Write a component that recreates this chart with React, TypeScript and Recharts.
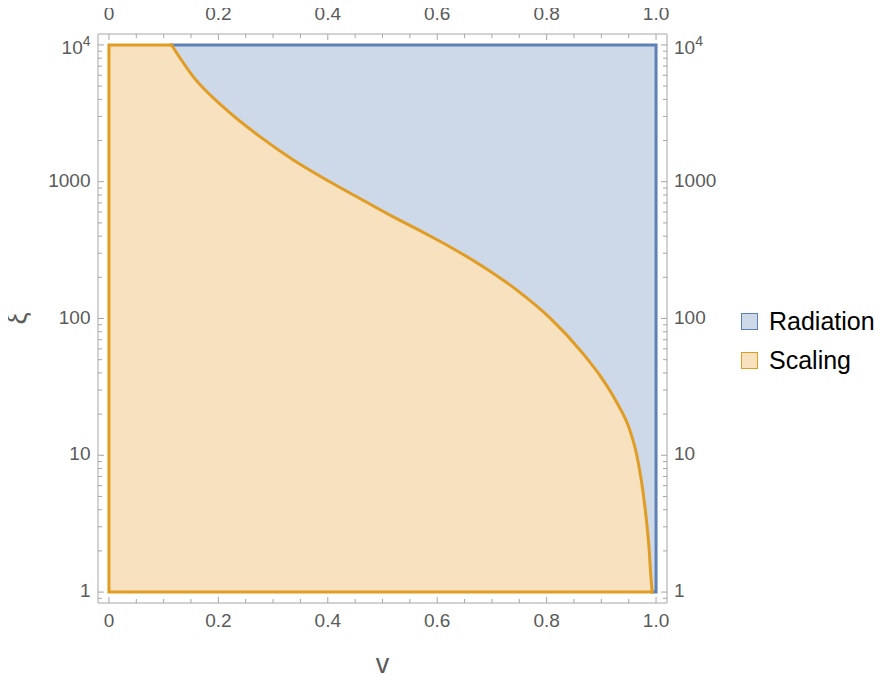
import React from 'react';
import { ComposedChart, Area, Line, XAxis, YAxis, Label } from 'recharts';

// boundary between the two regimes (v -> ξ)
const curveV = [0.1145, 0.154, 0.215, 0.276, 0.337, 0.398, 0.458, 0.519, 0.58, 0.623, 0.684, 0.745, 0.806, 0.866, 0.897, 0.927, 0.952, 0.964, 0.973, 0.981, 0.987, 0.991, 0.993];
const curveXi = [10000, 5865, 3350, 2135, 1443, 1030, 757, 555, 415, 335, 239, 162, 101, 55.7, 38.5, 24.8, 15.3, 10.35, 6.6, 3.77, 2.15, 1.23, 1];

// region box
const vRange = [0, 1];
const xiRange = [1, 10000];

const seriesNames = ['Radiation', 'Scaling'];

// axes
const xDomain = [-0.02, 1.02];
const yDomain = [0.832, 12020];
const xTicks = [0, 0.05, 0.1, 0.15, 0.2, 0.25, 0.3, 0.35, 0.4, 0.45, 0.5, 0.55, 0.6, 0.65, 0.7, 0.75, 0.8, 0.85, 0.9, 0.95, 1];
const xMajorTicks = [0, 0.2, 0.4, 0.6, 0.8, 1];
const xTickLabels = ['0', '0.2', '0.4', '0.6', '0.8', '1.0'];
const yDecades = [1, 10, 100, 1000, 10000];
const yTickLabels = ['1', '10', '100', '1000', '10'];
const yTickExps = ['', '', '', '', '4'];
const yMinorSteps = [2, 3, 4, 5, 6, 7, 8, 9];
const yTicks = [0.9, ...yDecades, ...yDecades.slice(0, 4).flatMap((d) => yMinorSteps.map((m) => m * d))].sort((a, b) => a - b);

const FONT = '"Liberation Sans", Arial, sans-serif';
const FRAME = '#a6a6a6';
const LABEL = '#5a5a5a';
const BLUE = '#5e81b5';
const BLUE_FILL = '#cdd9e8';
const ORANGE = '#e19c24';
const ORANGE_FILL = '#f7e1bf';

const xTick = (side: 'top' | 'bottom') => (props: any) => {
  const { x, y, payload } = props;
  const i = xMajorTicks.indexOf(payload.value);
  const dir = side === 'bottom' ? -1 : 1;
  const len = i >= 0 ? 6 : 4;
  return (
    <g>
      <line x1={x} x2={x} y1={y} y2={y + dir * len} stroke={FRAME} />
      {i >= 0 && (
        <text x={x} y={side === 'bottom' ? y + 24 : y - 14} textAnchor="middle" fill={LABEL} fontSize={19} fontFamily={FONT}>
          {xTickLabels[i]}
        </text>
      )}
    </g>
  );
};

const yTick = (side: 'left' | 'right') => (props: any) => {
  const { x, y, payload } = props;
  const i = yDecades.indexOf(payload.value);
  const dir = side === 'left' ? 1 : -1;
  const len = i >= 0 ? 6 : 4;
  const exp = i >= 0 ? yTickExps[i] : '';
  return (
    <g>
      <line x1={x} x2={x + dir * len} y1={y} y2={y} stroke={FRAME} />
      {i >= 0 && (
        <text
          x={side === 'left' ? x - 7.5 : x + 7}
          y={y + (exp ? 9 : 5)}
          textAnchor={side === 'left' ? 'end' : 'start'}
          fill={LABEL}
          fontSize={19}
          fontFamily={FONT}
        >
          {yTickLabels[i]}
          {exp && (
            <tspan dy={-8} fontSize={14}>
              {exp}
            </tspan>
          )}
        </text>
      )}
    </g>
  );
};

export default function App() {
  const vStart = curveV[0];
  const vEnd = curveV[curveV.length - 1];

  const boxData = [
    { v: vRange[0], r: [xiRange[0], xiRange[1]] },
    { v: vRange[1], r: [xiRange[0], xiRange[1]] },
  ];
  const radiationFill = [
    ...curveV.map((v, i) => ({ v, r: [curveXi[i], xiRange[1]] })),
    { v: vRange[1], r: [xiRange[0], xiRange[1]] },
  ];
  const curveData = curveV.map((v, i) => ({ v, xi: curveXi[i] }));
  const radiationEdge = [
    { v: vStart, xi: xiRange[1] },
    { v: vRange[1], xi: xiRange[1] },
    { v: vRange[1], xi: xiRange[0] },
    { v: vEnd, xi: xiRange[0] },
  ];
  const scalingEdge = [
    { v: vEnd, xi: xiRange[0] },
    { v: vRange[0], xi: xiRange[0] },
    { v: vRange[0], xi: xiRange[1] },
    { v: vStart, xi: xiRange[1] },
  ];

  const xAxisCommon = {
    type: 'number' as const,
    dataKey: 'v',
    domain: xDomain,
    allowDataOverflow: true,
    ticks: xTicks,
    interval: 0 as const,
    tickSize: 0,
    tickMargin: 0,
    tickLine: false,
    axisLine: { stroke: FRAME },
  };
  const yAxisCommon = {
    type: 'number' as const,
    scale: 'log' as const,
    domain: yDomain,
    allowDataOverflow: true,
    ticks: yTicks,
    interval: 0 as const,
    tickSize: 0,
    tickMargin: 0,
    tickLine: false,
    axisLine: { stroke: FRAME },
  };

  const legendRows = [
    { name: seriesNames[0], stroke: BLUE, fill: BLUE_FILL, top: 306 },
    { name: seriesNames[1], stroke: ORANGE, fill: ORANGE_FILL, top: 345 },
  ];

  return (
    <div style={{ position: 'relative', width: 888, height: 686, margin: '-8px 0 0 -8px', fontFamily: FONT }}>
      <ComposedChart width={888} height={686} margin={{ top: 14, right: 161, bottom: 53, left: 38 }}>
        <XAxis
          xAxisId="b"
          {...xAxisCommon}
          height={30}
          tick={xTick('bottom')}
          label={
            <Label
              content={(p: any) => (
                <text x={p.viewBox.x + p.viewBox.width / 2} y={p.viewBox.y + 70} textAnchor="middle" fill={LABEL} fontSize={27} fontFamily={FONT}>
                  v
                </text>
              )}
            />
          }
        />
        <XAxis xAxisId="t" orientation="top" {...xAxisCommon} height={20} tick={xTick('top')} />
        <YAxis
          yAxisId="l"
          {...yAxisCommon}
          width={60}
          tick={yTick('left')}
          label={
            <Label
              content={(p: any) => {
                const cx = p.viewBox.x - 12.3;
                const cy = p.viewBox.y + p.viewBox.height / 2;
                return (
                  <text x={cx} y={cy} textAnchor="middle" fill={LABEL} fontSize={27} fontFamily={FONT} transform={`rotate(-90, ${cx}, ${cy})`}>
                    ξ
                  </text>
                );
              }}
            />
          }
        />
        <YAxis yAxisId="r" orientation="right" {...yAxisCommon} width={60} tick={yTick('right')} />

        <Area xAxisId="b" yAxisId="l" data={boxData} dataKey="r" type="linear" fill={ORANGE_FILL} fillOpacity={1} stroke="none" isAnimationActive={false} />
        <Area xAxisId="b" yAxisId="l" data={radiationFill} dataKey="r" type="monotone" fill={BLUE_FILL} fillOpacity={1} stroke="none" isAnimationActive={false} />

        <Line xAxisId="t" yAxisId="r" data={radiationEdge} dataKey="xi" type="linear" stroke={BLUE} strokeWidth={3} strokeLinejoin="miter" strokeLinecap="square" dot={false} activeDot={false} isAnimationActive={false} />
        <Line xAxisId="t" yAxisId="r" data={scalingEdge} dataKey="xi" type="linear" stroke={ORANGE} strokeWidth={3} strokeLinejoin="miter" strokeLinecap="round" dot={false} activeDot={false} isAnimationActive={false} />
        <Line xAxisId="t" yAxisId="r" data={curveData} dataKey="xi" type="monotone" stroke={ORANGE} strokeWidth={3} strokeLinecap="round" dot={false} activeDot={false} isAnimationActive={false} />
      </ComposedChart>

      {legendRows.map((row) => (
        <div key={row.name} style={{ position: 'absolute', left: 741, top: row.top, height: 30, display: 'flex', alignItems: 'center' }}>
          <div style={{ width: 17, height: 17, boxSizing: 'border-box', border: `1.5px solid ${row.stroke}`, background: row.fill, marginRight: 11 }} />
          <span style={{ fontSize: 25, color: '#000', lineHeight: '30px' }}>{row.name}</span>
        </div>
      ))}
    </div>
  );
}
